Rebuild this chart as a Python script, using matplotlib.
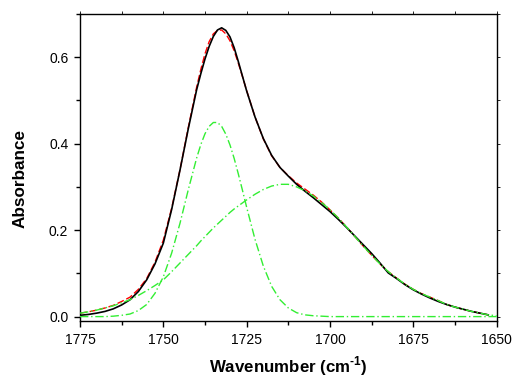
import matplotlib
matplotlib.use('Agg')
import numpy as np
import matplotlib.pyplot as plt
from matplotlib.ticker import MultipleLocator

plt.rcParams['font.family'] = ['Liberation Sans', 'DejaVu Sans']
plt.rcParams['mathtext.fontset'] = 'custom'
plt.rcParams['mathtext.rm'] = 'Liberation Sans:bold'

# wavenumber grid, finer around the peak
wn = [1775, 1772.5, 1770, 1767.5, 1765, 1762.5, 1760, 1757.5, 1755, 1752.5,
      1750, 1747.5, 1745, 1742.5, 1740, 1738.75, 1737.5, 1736.25, 1735, 1733.75,
      1732.5, 1731.25, 1730, 1728.75, 1727.5, 1726.25,
      1725, 1722.5, 1720, 1717.5, 1715, 1712.5, 1710, 1707.5, 1705, 1702.5,
      1700, 1697.5, 1695, 1692.5, 1690, 1687.5, 1685, 1682.5, 1680, 1677.5,
      1675, 1672.5, 1670, 1667.5, 1665, 1662.5, 1660, 1657.5, 1655, 1652.5,
      1650]

# measured spectrum (black), ends at 1652.5
measured = [0.003, 0.005, 0.008, 0.012, 0.018, 0.027, 0.039, 0.058, 0.085, 0.122,
            0.170, 0.248, 0.339, 0.435, 0.525, 0.562, 0.596, 0.625, 0.648, 0.663,
            0.668, 0.662, 0.647, 0.622, 0.590, 0.556,
            0.522, 0.462, 0.412, 0.373, 0.345, 0.325, 0.306, 0.290, 0.275, 0.259,
            0.243, 0.225, 0.206, 0.186, 0.166, 0.146, 0.124, 0.101, 0.088, 0.074,
            0.062, 0.052, 0.043, 0.035, 0.028, 0.022, 0.017, 0.012, 0.008, 0.004]

# fitted sum (red dashed)
fit = [0.008, 0.011, 0.015, 0.020, 0.026, 0.035, 0.045, 0.063, 0.088, 0.126,
       0.177, 0.251, 0.340, 0.438, 0.531, 0.572, 0.608, 0.636, 0.654, 0.662,
       0.663, 0.654, 0.638, 0.615, 0.586, 0.555,
       0.523, 0.462, 0.411, 0.372, 0.345, 0.326, 0.309, 0.295, 0.281, 0.265,
       0.247, 0.228, 0.207, 0.185, 0.163, 0.142, 0.122, 0.104, 0.089, 0.075,
       0.063, 0.053, 0.045, 0.037, 0.028, 0.022, 0.017, 0.012, 0.008, 0.004]

# narrow component, peak ~1734
band1 = [0.000, 0.000, 0.000, 0.000, 0.001, 0.003, 0.006, 0.014, 0.028, 0.054,
         0.092, 0.147, 0.216, 0.294, 0.367, 0.398, 0.423, 0.440, 0.449, 0.449,
         0.440, 0.422, 0.397, 0.366, 0.330, 0.292,
         0.253, 0.179, 0.117, 0.070, 0.039, 0.020, 0.009, 0.004, 0.002, 0.001,
         0.000, 0.000, 0.000, 0.000, 0.000, 0.000, 0.000, 0.000, 0.000, 0.000,
         0.000, 0.000, 0.000, 0.000, 0.000, 0.000, 0.000, 0.000, 0.000, 0.000,
         0.000]

# broad component, peak ~1714
band2 = [0.008, 0.011, 0.015, 0.020, 0.025, 0.032, 0.039, 0.049, 0.060, 0.072,
         0.085, 0.104, 0.124, 0.144, 0.164, 0.175, 0.185, 0.195, 0.205, 0.214,
         0.223, 0.232, 0.241, 0.249, 0.256, 0.263,
         0.270, 0.283, 0.294, 0.302, 0.306, 0.306, 0.300, 0.291, 0.279, 0.264,
         0.247, 0.228, 0.207, 0.185, 0.163, 0.142, 0.122, 0.104, 0.089, 0.075,
         0.063, 0.053, 0.045, 0.037, 0.028, 0.022, 0.017, 0.012, 0.008, 0.004,
         0.002]

green = '#33ee33'

fig = plt.figure(figsize=(5.13, 3.78), dpi=100)
ax = fig.add_axes([0.156, 0.151, 0.812, 0.812])

ax.plot(wn[:-1], measured, color='black', lw=1.2, zorder=3)
ax.plot(wn[:-1], fit, color='red', lw=1.0, ls=(0, (5, 2)), zorder=2)
ax.plot(wn, band1, color=green, lw=1.0, ls=(0, (6, 2, 1, 2)), zorder=4)
ax.plot(wn, band2, color=green, lw=1.0, ls=(0, (6, 2, 1, 2)), zorder=4)

ax.set_xlim(1775, 1650)
ax.set_ylim(-0.01, 0.70)
ax.xaxis.set_major_locator(MultipleLocator(25))
ax.xaxis.set_minor_locator(MultipleLocator(12.5))
ax.yaxis.set_major_locator(MultipleLocator(0.2))
ax.yaxis.set_minor_locator(MultipleLocator(0.1))
ax.yaxis.set_major_formatter(plt.FormatStrFormatter('%.1f'))

ax.tick_params(which='major', direction='out', length=4.4, width=1, labelsize=10, pad=4)
ax.tick_params(which='minor', direction='out', length=2.6, width=1)
ax.tick_params(which='both', top=True, right=True)
for t in ax.xaxis.get_major_ticks() + ax.xaxis.get_minor_ticks():
    t.tick2line.set_markersize(2)
    t.tick2line.set_markeredgewidth(0.6)
for t in ax.yaxis.get_major_ticks() + ax.yaxis.get_minor_ticks():
    t.tick2line.set_markersize(2)
    t.tick2line.set_markeredgewidth(0.6)
for s in ax.spines.values():
    s.set_linewidth(1.0)

ax.set_xlabel('Wavenumber (cm$^{\\text{-1}}$)', fontsize=12.2, fontweight='bold')
ax.set_ylabel('Absorbance', fontsize=12.3, fontweight='bold')
ax.xaxis.set_label_coords(0.5, -0.108)
ax.yaxis.set_label_coords(-0.125, 0.4625)

fig.savefig('out.png', dpi=100)
